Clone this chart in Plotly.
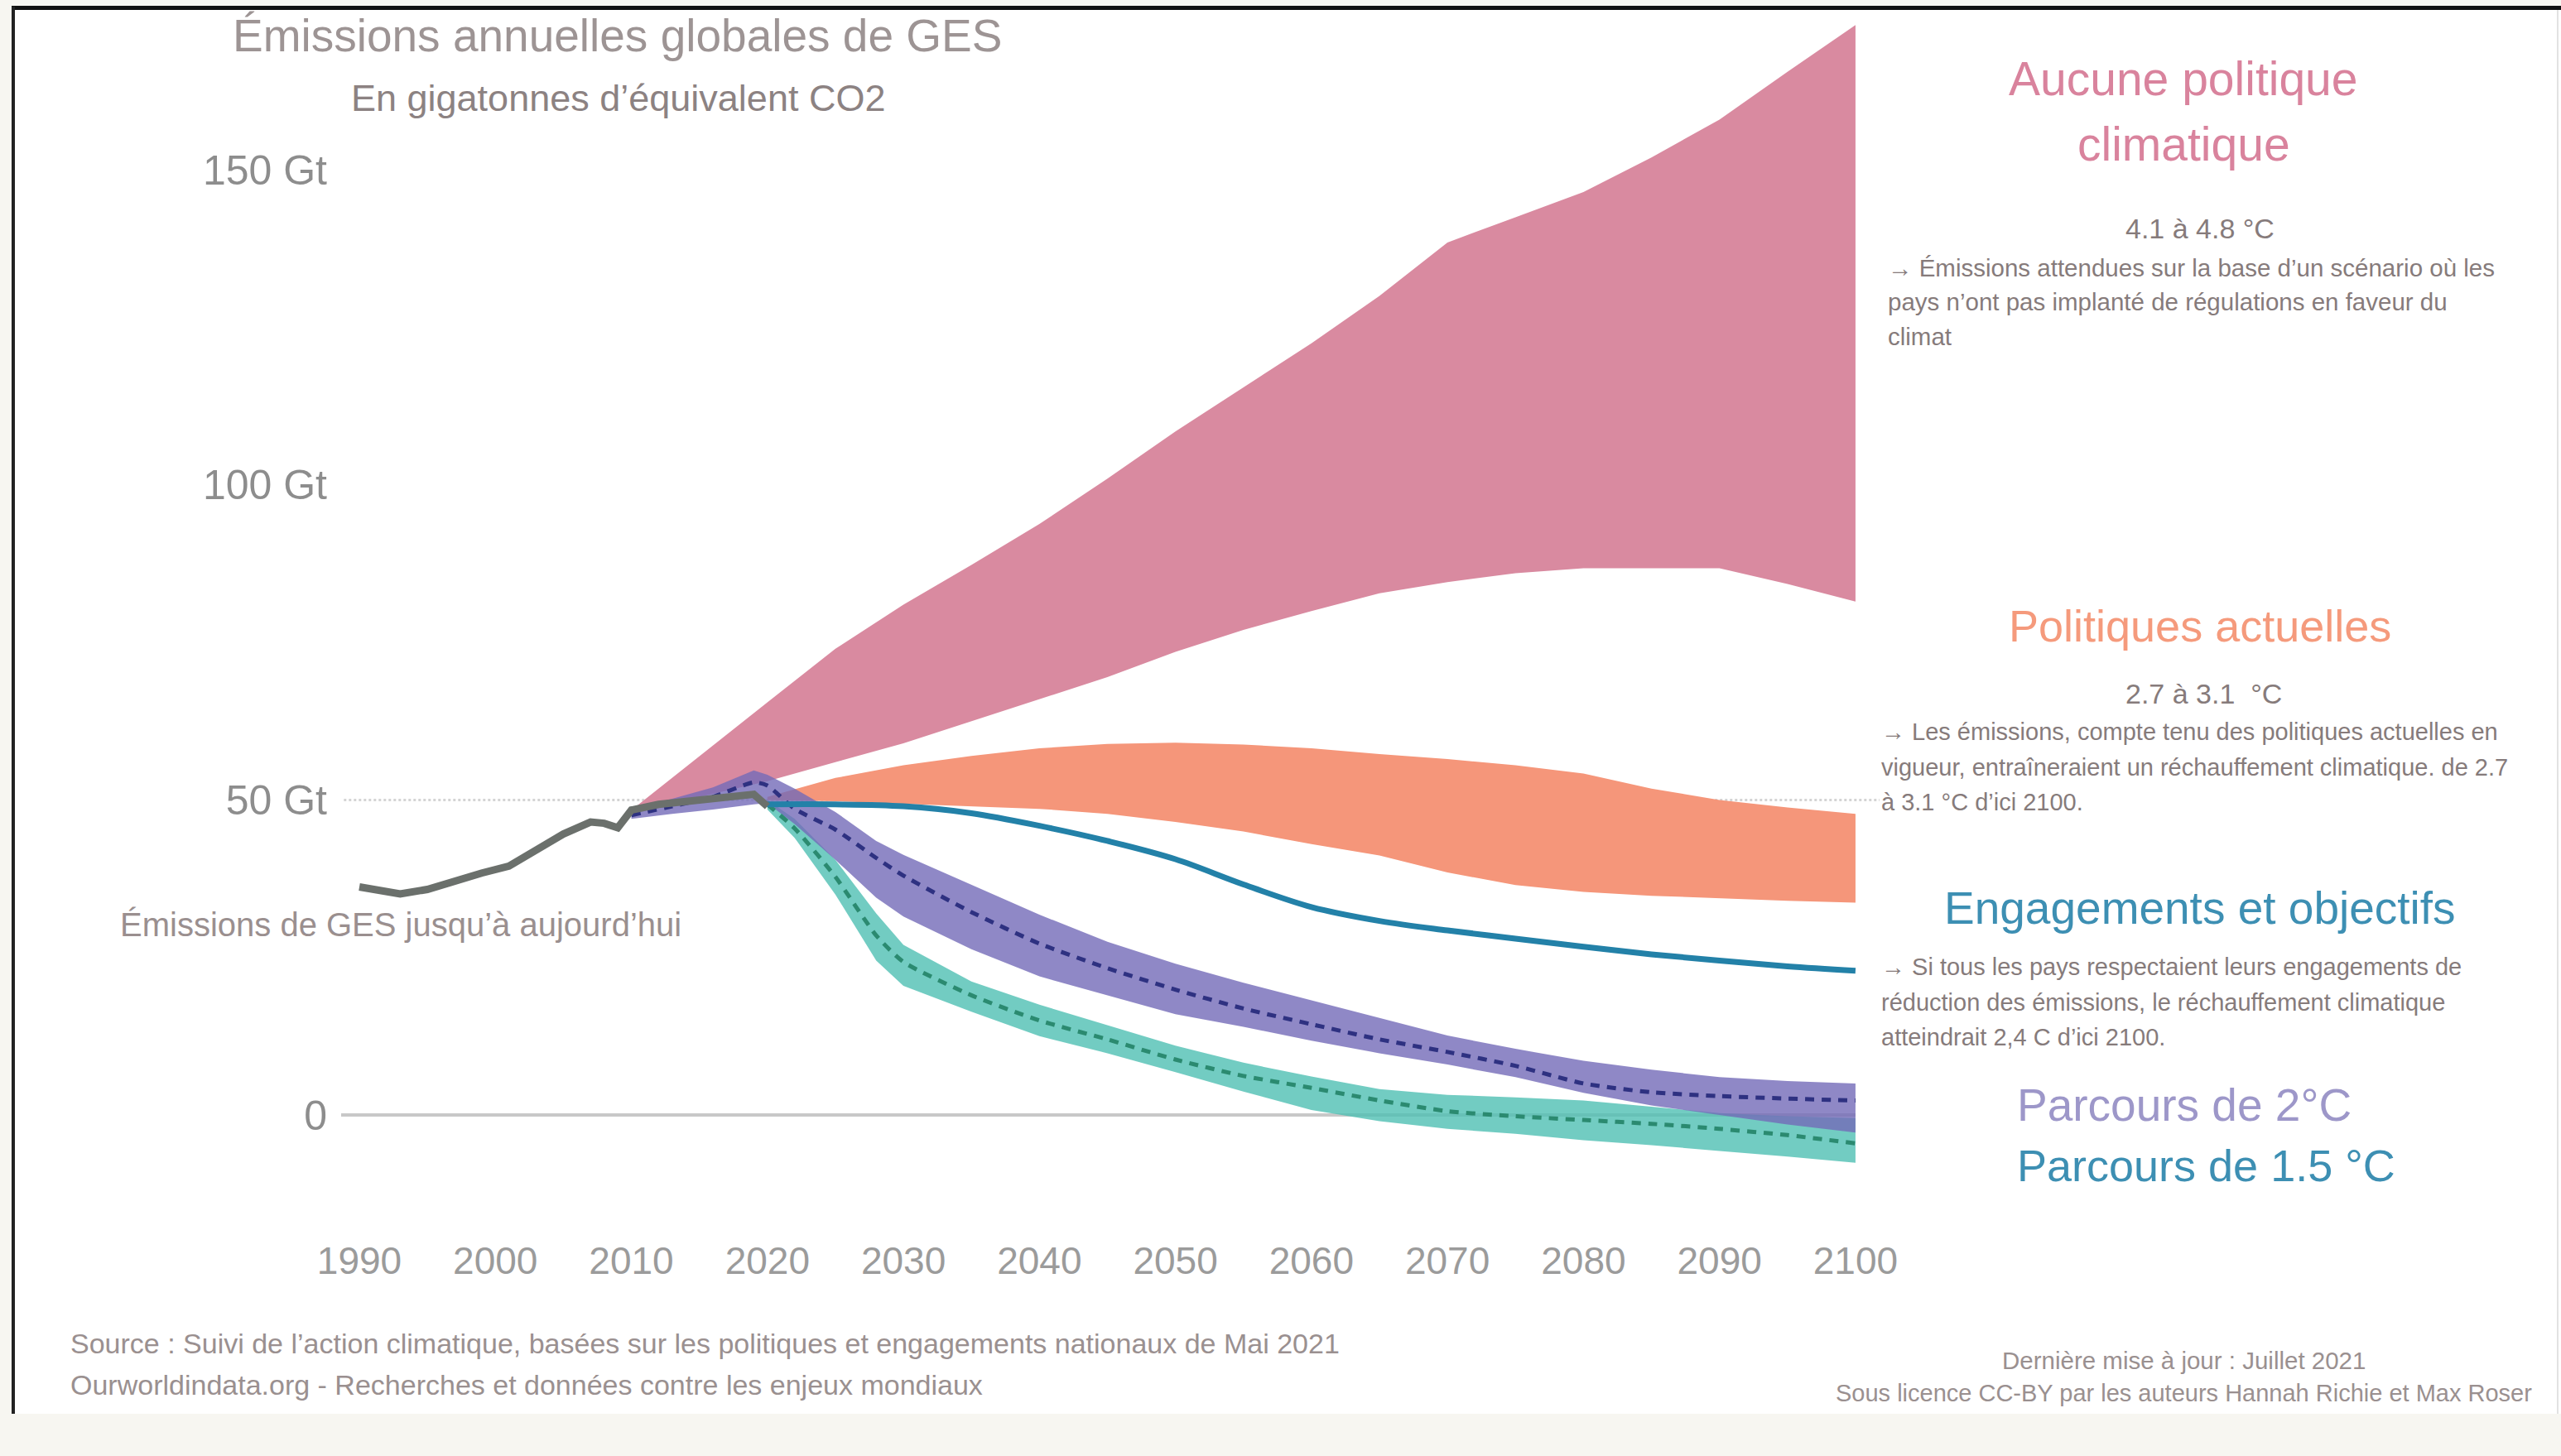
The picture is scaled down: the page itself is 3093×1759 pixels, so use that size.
import plotly.graph_objects as go

# ---------------- data (Gt CO2e) ----------------
HIST_YEARS = [1990, 1991, 1993, 1995, 1997, 1999, 2001, 2003, 2005, 2007, 2008, 2009, 2010, 2012, 2014, 2016, 2018, 2019, 2020]
HIST = [36.2, 35.8, 35.1, 35.8, 37.2, 38.4, 39.5, 42.0, 44.6, 46.5, 46.3, 45.6, 48.4, 49.3, 49.8, 50.2, 50.6, 50.9, 49.0]

NOPOL_YEARS = [2010, 2015, 2020, 2025, 2030, 2035, 2040, 2045, 2050, 2055, 2060, 2065, 2070, 2075, 2080, 2085, 2090, 2095, 2100]
NOPOL_HIGH = [48.4, 57.0, 65.5, 74.0, 81.0, 87.3, 93.8, 101.0, 108.5, 115.5, 122.5, 130.0, 138.5, 142.5, 146.5, 152.0, 158.0, 165.6, 173.0]
NOPOL_LOW = [48.4, 50.5, 53.0, 56.0, 59.0, 62.5, 66.0, 69.5, 73.5, 77.0, 80.0, 82.8, 84.6, 86.0, 86.8, 86.8, 86.8, 84.3, 81.5]

CUR_YEARS = [2020, 2025, 2030, 2035, 2040, 2045, 2050, 2055, 2060, 2065, 2070, 2075, 2080, 2085, 2090, 2095, 2100]
CUR_HIGH = [50.5, 53.5, 55.5, 57.0, 58.2, 58.9, 59.1, 58.8, 58.2, 57.3, 56.5, 55.5, 54.2, 51.8, 50.0, 48.8, 47.8]
CUR_LOW = [50.0, 49.8, 49.4, 49.0, 48.6, 47.8, 46.5, 45.0, 43.0, 41.2, 38.5, 36.5, 35.4, 34.8, 34.4, 34.0, 33.7]

PLEDGE_YEARS = [2020, 2025, 2030, 2035, 2040, 2045, 2050, 2055, 2060, 2065, 2070, 2075, 2080, 2085, 2090, 2095, 2100]
PLEDGE = [49.3, 49.3, 49.0, 47.9, 45.9, 43.5, 40.6, 36.6, 33.0, 30.8, 29.3, 28.0, 26.7, 25.5, 24.5, 23.6, 22.9]

P2_YEARS = [2010, 2013, 2016, 2019, 2020, 2022, 2025, 2028, 2030, 2035, 2040, 2045, 2050, 2055, 2060, 2065, 2070, 2075, 2080, 2085, 2090, 2095, 2100]
P2_HIGH = [48.6, 50.2, 52.0, 54.7, 54.0, 51.8, 48.1, 43.5, 41.3, 36.5, 31.8, 27.5, 24.0, 21.0, 18.2, 15.3, 12.6, 10.5, 8.6, 7.2, 6.0, 5.4, 5.0]
P2_LOW = [47.0, 47.8, 48.5, 49.3, 49.5, 46.2, 40.5, 34.5, 31.5, 26.3, 22.0, 19.0, 16.0, 14.0, 11.8, 9.8, 8.0, 6.0, 3.5, 1.5, 0.0, -1.5, -2.8]
P2_MID = [47.6, 49.0, 50.5, 52.8, 52.3, 48.6, 45.3, 40.8, 38.0, 32.2, 27.2, 23.3, 19.9, 16.9, 14.4, 12.0, 10.0, 7.8, 5.0, 3.6, 3.0, 2.6, 2.3]

P15_YEARS = [2020, 2022, 2025, 2028, 2030, 2035, 2040, 2045, 2050, 2055, 2060, 2065, 2070, 2075, 2080, 2085, 2090, 2095, 2100]
P15_HIGH = [50.0, 47.0, 40.5, 32.0, 27.0, 21.2, 17.5, 14.2, 11.0, 8.3, 6.1, 4.1, 3.2, 2.8, 2.3, 1.3, 0.3, -0.2, -0.5]
P15_LOW = [48.5, 44.0, 35.0, 24.5, 20.5, 16.4, 12.5, 9.8, 6.8, 3.7, 0.8, -1.0, -2.2, -3.0, -4.0, -4.8, -5.7, -6.6, -7.6]
P15_MID = [49.3, 45.5, 37.8, 28.5, 24.3, 19.0, 15.0, 12.0, 8.8, 6.2, 4.3, 2.3, 0.6, -0.2, -0.8, -1.4, -2.2, -3.2, -4.5]

X_TICKS = [1990, 2000, 2010, 2020, 2030, 2040, 2050, 2060, 2070, 2080, 2090, 2100]
Y_TICKS = [0, 50, 100, 150]
Y_TICK_TEXT = ["0", "50 Gt", "100 Gt", "150 Gt"]

# ---------------- layout geometry ----------------
W, H = 3093, 1759
L, R, T, B = 412, 823, 20, 282
X_MIN, X_MAX = 1988.66, 2101.77
Y_MIN, Y_MAX = -17.08, 174.36
PW, PH = W - L - R, H - T - B


def px(x):
    return (x - L) / PW


def py(y):
    return 1 - (y - T) / PH


FONT = "Liberation Sans, Arial, sans-serif"


def band(xs, lo, hi):
    return list(xs) + list(xs)[::-1], list(hi) + list(lo)[::-1]


fig = go.Figure()

bx, byv = band(NOPOL_YEARS, NOPOL_LOW, NOPOL_HIGH)
fig.add_trace(go.Scatter(x=bx, y=byv, fill="toself", fillcolor="rgb(217,138,160)",
                         line=dict(width=0), mode="lines", hoverinfo="skip"))
bx, byv = band(CUR_YEARS, CUR_LOW, CUR_HIGH)
fig.add_trace(go.Scatter(x=bx, y=byv, fill="toself", fillcolor="rgb(245,150,122)",
                         line=dict(width=0), mode="lines", hoverinfo="skip"))
bx, byv = band(P15_YEARS, P15_LOW, P15_HIGH)
fig.add_trace(go.Scatter(x=bx, y=byv, fill="toself", fillcolor="rgba(79,191,179,0.8)",
                         line=dict(width=0), mode="lines", hoverinfo="skip"))
bx, byv = band(P2_YEARS, P2_LOW, P2_HIGH)
fig.add_trace(go.Scatter(x=bx, y=byv, fill="toself", fillcolor="rgba(115,106,184,0.8)",
                         line=dict(width=0), mode="lines", hoverinfo="skip"))

fig.add_trace(go.Scatter(x=P15_YEARS, y=P15_MID, mode="lines",
                         line=dict(color="#2b8a70", width=5, dash="11px,9px", shape="spline", smoothing=0.6)))
fig.add_trace(go.Scatter(x=P2_YEARS, y=P2_MID, mode="lines",
                         line=dict(color="#2e3181", width=5, dash="11px,9px", shape="spline", smoothing=0.6)))
fig.add_trace(go.Scatter(x=PLEDGE_YEARS, y=PLEDGE, mode="lines",
                         line=dict(color="#2381a8", width=7, shape="spline", smoothing=1.0)))
fig.add_trace(go.Scatter(x=HIST_YEARS, y=HIST, mode="lines",
                         line=dict(color="#6b706c", width=9)))

shapes = [
    dict(type="line", xref="x", yref="y", x0=X_MIN, x1=2100, y0=0, y1=0,
         line=dict(color="#c8c8c8", width=4), layer="below"),
    dict(type="line", xref="x", yref="y", x0=X_MIN + 0.2, x1=X_MAX, y0=50, y1=50,
         line=dict(color="#d4d4d4", width=3, dash="dot"), layer="below"),
    dict(type="rect", xref="paper", yref="paper", x0=px(0), x1=px(W), y0=py(1708), y1=py(H),
         fillcolor="#f7f6f1", line=dict(width=0), layer="below"),
    dict(type="rect", xref="paper", yref="paper", x0=px(0), x1=px(W), y0=py(0), y1=py(7),
         fillcolor="#f7f6f1", line=dict(width=0), layer="below"),
    dict(type="rect", xref="paper", yref="paper", x0=px(0), x1=px(14), y0=py(0), y1=py(1708),
         fillcolor="#f7f6f1", line=dict(width=0), layer="below"),
    dict(type="line", xref="paper", yref="paper", x0=px(14), x1=px(W), y0=py(9.5), y1=py(9.5),
         line=dict(color="#111111", width=5)),
    dict(type="line", xref="paper", yref="paper", x0=px(16), x1=px(16), y0=py(8), y1=py(1708),
         line=dict(color="#222222", width=4)),
    dict(type="line", xref="paper", yref="paper", x0=px(3089), x1=px(3089), y0=py(12), y1=py(1708),
         line=dict(color="#e2e2e2", width=2)),
]

GRAY_T = "#9d9494"
DESC = "#867b7b"
ann = []


def txt(text, x, y, size, color, xanchor="center"):
    ann.append(dict(text=text, x=px(x), y=py(y), xref="paper", yref="paper", showarrow=False,
                    xanchor=xanchor, yanchor="middle", font=dict(family=FONT, size=size, color=color)))


txt("Émissions annuelles globales de GES", 745, 43, 55, GRAY_T)
txt("En gigatonnes d’équivalent CO2", 746, 118, 45, "#8c8282")
txt("Émissions de GES jusqu’à aujourd’hui", 484, 1117, 40, "#9a8f8f")

txt("Aucune politique", 2637, 95, 57, "#d9839d")
txt("climatique", 2637, 174, 57, "#d9839d")
txt("4.1 à 4.8 °C", 2657, 276, 34, DESC)
for i, line in enumerate(["→ Émissions attendues sur la base d’un scénario où les",
                          "pays n’ont pas implanté de régulations en faveur du",
                          "climat"]):
    txt(line, 2278, 323 + i * 41.5, 29.5, DESC, "left")

txt("Politiques actuelles", 2657, 756, 54, "#f59a7c")
txt("2.7 à 3.1  °C", 2661, 838, 34, DESC)
for i, line in enumerate(["→ Les émissions, compte tenu des politiques actuelles en",
                          "vigueur, entraîneraient un réchauffement climatique. de 2.7",
                          "à 3.1 °C d’ici 2100."]):
    txt(line, 2270, 884 + i * 42.5, 29, DESC, "left")

txt("Engagements et objectifs", 2657, 1097, 55, "#3d8fb3")
for i, line in enumerate(["→ Si tous les pays respectaient leurs engagements de",
                          "réduction des émissions, le réchauffement climatique",
                          "atteindrait 2,4 C d’ici 2100."]):
    txt(line, 2270, 1168 + i * 42.5, 29, DESC, "left")

txt("Parcours de 2°C", 2434, 1335, 55, "#9d97c9", "left")
txt("Parcours de 1.5 °C", 2434, 1408, 54, "#3d8fb3", "left")

txt("Source : Suivi de l’action climatique, basées sur les politiques et engagements nationaux de Mai 2021",
    83, 1623, 34, "#9a9090", "left")
txt("Ourworldindata.org - Recherches et données contre les enjeux mondiaux", 83, 1673, 34, "#9a9090", "left")
txt("Dernière mise à jour : Juillet 2021", 2637, 1643, 29.5, "#9a9090")
txt("Sous licence CC-BY par les auteurs Hannah Richie et Max Roser", 2637, 1683, 29, "#9a9090")

fig.update_layout(
    width=W, height=H,
    margin=dict(l=L, r=R, t=T, b=B, pad=0, autoexpand=False),
    paper_bgcolor="white", plot_bgcolor="rgba(0,0,0,0)",
    showlegend=False, hovermode=False,
    shapes=shapes, annotations=ann,
    xaxis=dict(range=[X_MIN, X_MAX], tickvals=X_TICKS, ticktext=[str(v) for v in X_TICKS],
               showgrid=False, zeroline=False, showline=False, ticks="outside", ticklen=6,
               tickcolor="rgba(0,0,0,0)", tickfont=dict(family=FONT, size=46, color="#9b9b9b"),
               fixedrange=True),
    yaxis=dict(range=[Y_MIN, Y_MAX], tickvals=Y_TICKS, ticktext=Y_TICK_TEXT,
               showgrid=False, zeroline=False, showline=False, ticks="outside", ticklen=6,
               tickcolor="rgba(0,0,0,0)", tickfont=dict(family=FONT, size=50, color="#8d8d8d"),
               fixedrange=True),
)

fig.write_html("out.html", config={"displayModeBar": False},
               post_script="document.body.style.margin='0';document.body.style.overflow='hidden';")
